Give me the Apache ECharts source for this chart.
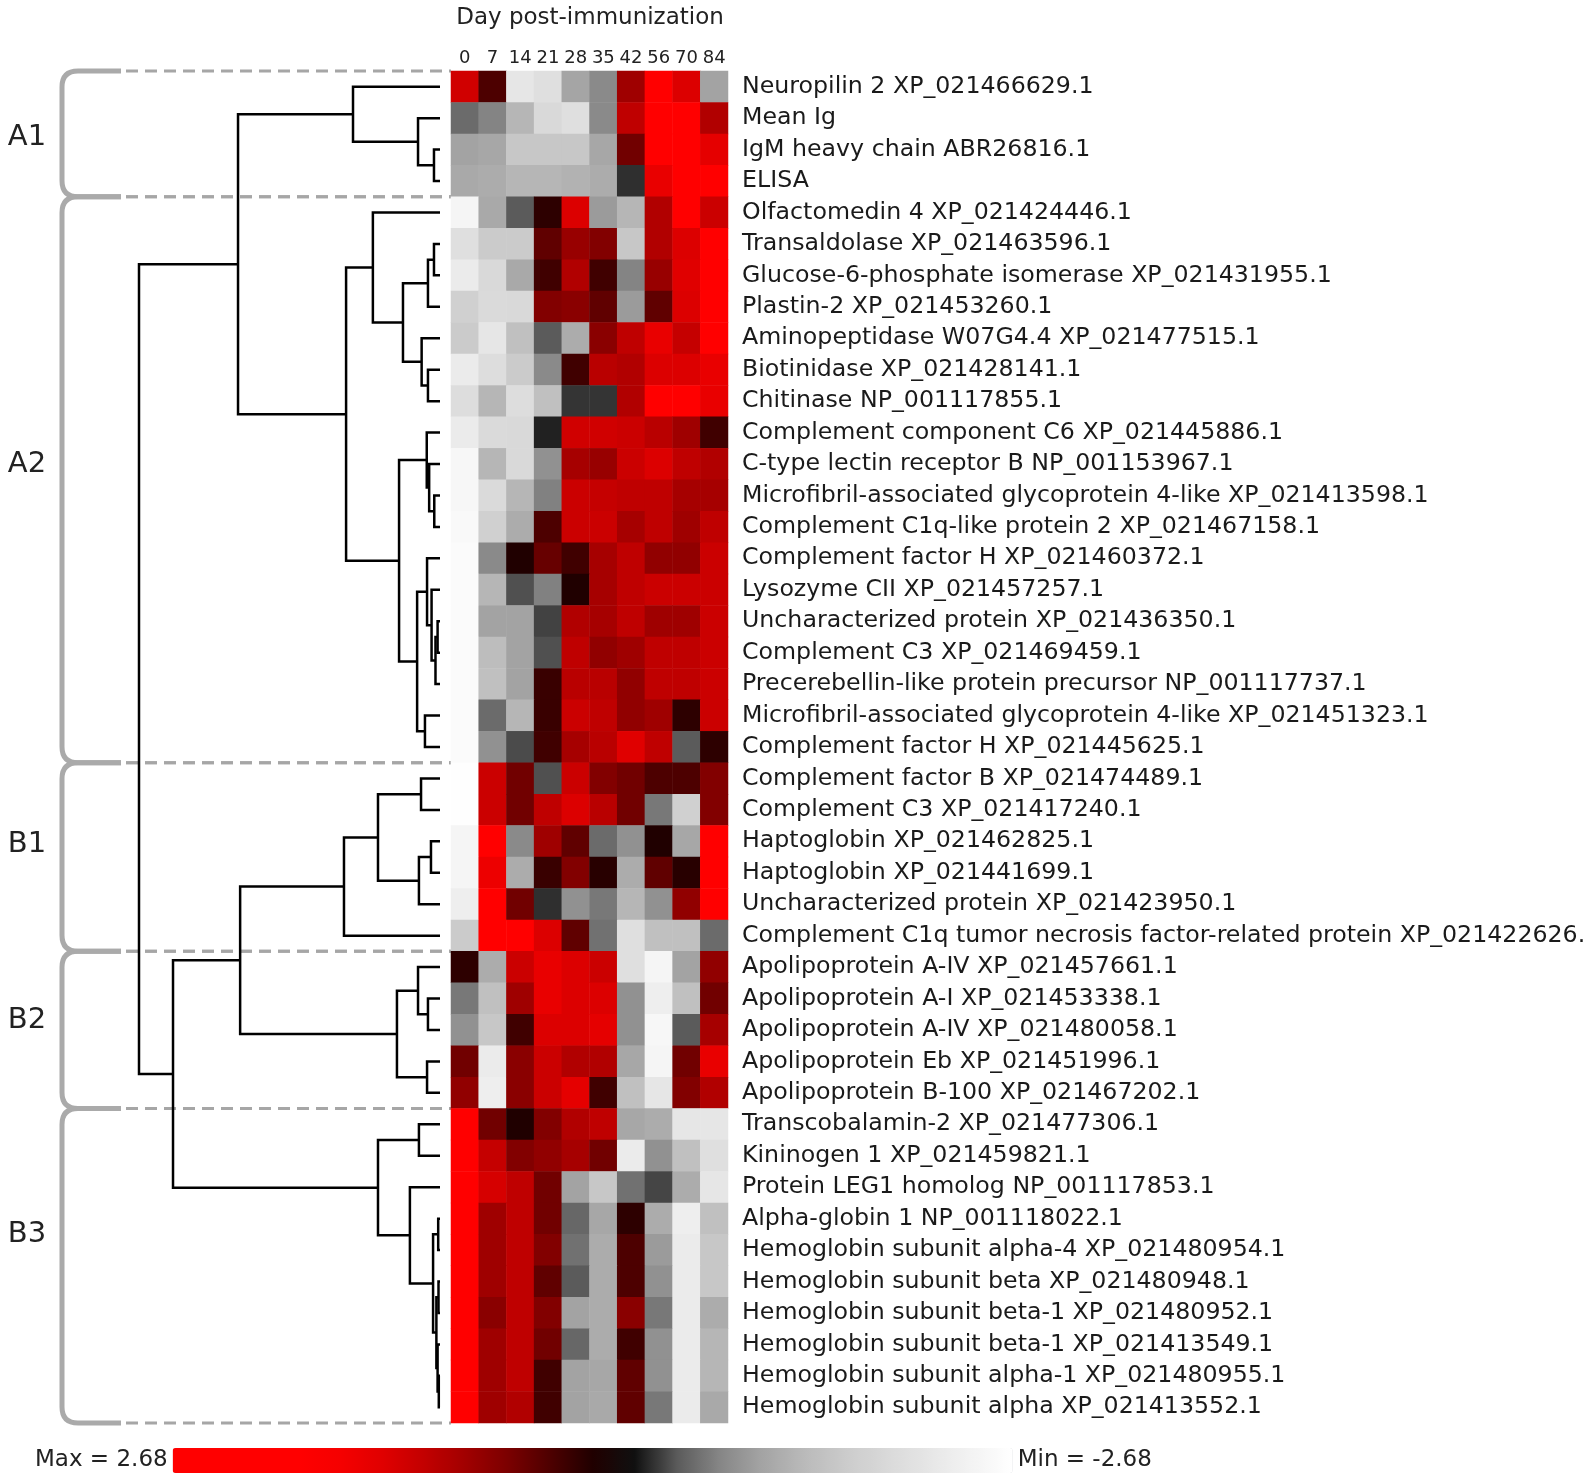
<!DOCTYPE html>
<html><head><meta charset="utf-8">
<script src="https://cdn.jsdelivr.net/npm/echarts/dist/echarts.min.js"></script>
<style>html,body{margin:0;padding:0;background:#fff}#c{width:1585px;height:1484px}</style>
</head><body><div id="c"></div>
<script>
const days = ['0','7','14','21','28','35','42','56','70','84'];
const proteins = [
 'Neuropilin 2 XP_021466629.1','Mean Ig','IgM heavy chain ABR26816.1','ELISA',
 'Olfactomedin 4 XP_021424446.1','Transaldolase XP_021463596.1','Glucose-6-phosphate isomerase XP_021431955.1',
 'Plastin-2 XP_021453260.1','Aminopeptidase W07G4.4 XP_021477515.1','Biotinidase XP_021428141.1',
 'Chitinase NP_001117855.1','Complement component C6 XP_021445886.1','C-type lectin receptor B NP_001153967.1',
 'Microfibril-associated glycoprotein 4-like XP_021413598.1','Complement C1q-like protein 2 XP_021467158.1',
 'Complement factor H XP_021460372.1','Lysozyme CII XP_021457257.1','Uncharacterized protein XP_021436350.1',
 'Complement C3 XP_021469459.1','Precerebellin-like protein precursor NP_001117737.1',
 'Microfibril-associated glycoprotein 4-like XP_021451323.1','Complement factor H XP_021445625.1',
 'Complement factor B XP_021474489.1','Complement C3 XP_021417240.1','Haptoglobin XP_021462825.1',
 'Haptoglobin XP_021441699.1','Uncharacterized protein XP_021423950.1',
 'Complement C1q tumor necrosis factor-related protein XP_021422626.1',
 'Apolipoprotein A-IV XP_021457661.1','Apolipoprotein A-I XP_021453338.1','Apolipoprotein A-IV XP_021480058.1',
 'Apolipoprotein Eb XP_021451996.1','Apolipoprotein B-100 XP_021467202.1',
 'Transcobalamin-2 XP_021477306.1','Kininogen 1 XP_021459821.1','Protein LEG1 homolog NP_001117853.1',
 'Alpha-globin 1 NP_001118022.1','Hemoglobin subunit alpha-4 XP_021480954.1','Hemoglobin subunit beta XP_021480948.1',
 'Hemoglobin subunit beta-1 XP_021480952.1','Hemoglobin subunit beta-1 XP_021413549.1',
 'Hemoglobin subunit alpha-1 XP_021480955.1','Hemoglobin subunit alpha XP_021413552.1'
];
// z-scored abundance per row (columns = days)
const valuesA1 = [
 [1.2, 0.27, -2.14, -2.0, -1.1, -0.85, 0.8, 2.4, 1.3, -1.07],
 [-0.64, -0.8, -1.3, -1.88, -2.0, -0.85, 1.05, 2.3, 2.5, 0.94],
 [-1.07, -1.12, -1.55, -1.55, -1.55, -1.12, 0.48, 2.3, 2.5, 1.4],
 [-1.15, -1.18, -1.3, -1.3, -1.25, -1.18, -0.38, 1.45, 2.3, 2.3]
];
const valuesA2 = [
 [-2.45, -1.15, -0.54, 0.08, 1.3, -1.0, -1.3, 0.94, 2.3, 1.15],
 [-2.0, -1.61, -1.61, 0.38, 0.75, 0.59, -1.55, 0.94, 1.3, 2.3],
 [-2.25, -1.88, -1.15, 0.19, 0.94, 0.19, -0.8, 0.75, 1.34, 2.3],
 [-1.7, -1.9, -1.88, 0.59, 0.65, 0.38, -1.0, 0.38, 1.3, 2.4],
 [-1.61, -2.14, -1.45, -0.54, -1.18, 0.65, 1.05, 1.45, 1.1, 2.3],
 [-2.25, -1.95, -1.61, -0.85, 0.19, 1.0, 0.94, 1.3, 1.3, 1.45],
 [-1.95, -1.3, -1.95, -1.45, -0.4, -0.4, 0.94, 2.3, 2.3, 1.45],
 [-2.25, -1.9, -1.88, -0.33, 1.2, 1.2, 1.15, 1.0, 0.8, 0.19],
 [-2.5, -1.3, -1.88, -0.91, 0.85, 0.75, 1.15, 1.3, 1.05, 0.94],
 [-2.5, -1.9, -1.3, -0.78, 1.15, 1.1, 1.05, 1.05, 0.85, 0.85],
 [-2.55, -1.7, -1.18, 0.27, 1.15, 1.15, 0.85, 1.05, 0.8, 1.05],
 [-2.6, -0.85, 0.0, 0.42, 0.19, 0.85, 1.05, 0.7, 0.7, 1.15],
 [-2.6, -1.3, -0.5, -0.78, 0.0, 0.85, 1.05, 1.15, 1.15, 1.15],
 [-2.6, -1.07, -1.07, -0.45, 0.94, 0.85, 1.05, 0.8, 0.8, 1.15],
 [-2.6, -1.4, -1.07, -0.5, 1.05, 0.7, 0.8, 1.05, 1.05, 1.15],
 [-2.6, -1.45, -1.07, 0.15, 1.0, 1.0, 0.7, 1.05, 1.05, 1.15],
 [-2.6, -0.64, -1.3, 0.15, 1.15, 1.05, 0.7, 0.8, 0.08, 1.15],
 [-2.6, -0.91, -0.48, 0.19, 0.85, 1.0, 1.34, 1.05, -0.54, 0.08]
];
const valuesB1 = [
 [-2.65, 1.15, 0.48, -0.5, 1.15, 0.59, 0.48, 0.27, 0.27, 0.59],
 [-2.65, 1.15, 0.48, 1.05, 1.3, 1.0, 0.48, -0.72, -1.7, 0.59],
 [-2.45, 2.3, -0.85, 0.8, 0.38, -0.64, -0.91, 0.0, -1.12, 2.3],
 [-2.45, 1.5, -1.18, 0.15, 0.59, 0.05, -1.18, 0.38, 0.05, 2.3],
 [-2.3, 2.3, 0.48, -0.38, -0.91, -0.72, -1.3, -0.91, 0.7, 2.3],
 [-1.61, 2.3, 2.3, 1.3, 0.38, -0.68, -2.0, -1.45, -1.45, -0.64]
];
const valuesB2 = [
 [0.08, -1.18, 1.15, 1.45, 1.3, 1.15, -2.0, -2.45, -1.07, 0.7],
 [-0.72, -1.45, 0.8, 1.45, 1.3, 1.3, -0.91, -2.3, -1.45, 0.48],
 [-0.91, -1.55, 0.19, 1.3, 1.3, 1.4, -0.91, -2.5, -0.54, 0.85],
 [0.48, -2.25, 0.65, 1.15, 0.94, 0.94, -1.12, -2.45, 0.48, 1.45],
 [0.7, -2.3, 0.65, 1.15, 1.4, 0.19, -1.45, -2.14, 0.59, 0.94]
];
const valuesB3 = [
 [2.3, 0.48, 0.0, 0.59, 0.94, 1.05, -1.12, -1.18, -2.14, -2.14],
 [2.3, 1.1, 0.59, 0.7, 0.85, 0.48, -2.25, -0.91, -1.45, -2.0],
 [2.3, 1.25, 1.05, 0.48, -1.07, -1.55, -0.68, -0.46, -1.18, -2.14],
 [2.3, 0.8, 1.05, 0.48, -0.62, -1.12, 0.08, -1.18, -2.3, -1.45],
 [2.3, 0.8, 1.05, 0.59, -0.68, -1.18, 0.27, -1.0, -2.25, -1.55],
 [2.3, 0.8, 1.05, 0.38, -0.54, -1.18, 0.27, -0.91, -2.25, -1.55],
 [2.3, 0.65, 1.05, 0.59, -1.07, -1.18, 0.65, -0.72, -2.25, -1.18],
 [2.3, 0.8, 1.05, 0.48, -0.62, -1.18, 0.19, -0.91, -2.25, -1.3],
 [2.3, 0.8, 1.05, 0.19, -1.07, -1.12, 0.38, -0.91, -2.25, -1.3],
 [2.3, 0.8, 0.94, 0.19, -1.07, -1.15, 0.38, -0.72, -2.25, -1.15]
];
const scaleMin = -2.68, scaleMax = 2.68;
// hierarchical clustering: [childA, childB, distance]; leaves 0..42, merged node k gets id 43+k
const merges = [
 [2,3,0.020],[1,43,0.073],[0,44,0.289],
 [5,6,0.020],[46,7,0.040],[9,10,0.040],[8,48,0.061],[47,49,0.123],[4,50,0.223],
 [13,14,0.019],[12,52,0.036],[11,53,0.044],
 [17,18,0.008],[55,19,0.015],[16,56,0.028],[15,57,0.043],[20,21,0.050],[58,59,0.076],
 [54,60,0.136],[51,61,0.312],[45,62,0.671],
 [22,23,0.063],[24,25,0.030],[65,26,0.070],[64,66,0.206],[67,27,0.319],
 [29,30,0.040],[28,69,0.073],[31,32,0.043],[70,71,0.143],[68,72,0.664],
 [33,34,0.070],
 [36,37,0.006],[38,39,0.005],[41,42,0.004],[40,77,0.008],[76,78,0.012],[75,79,0.023],
 [35,80,0.100],[74,81,0.206],[73,82,0.887],[63,83,1.0]
];
const clusterNames = ['A1','A2','B1','B2','B3'];
const clusterFirst = [0, 4, 22, 28, 33];
const clusterLast = [3, 21, 27, 32, 42];
const clusterLabelRow = [1.6, 12.0, 24.1, 29.7, 36.5];

const allRows = [].concat(valuesA1, valuesA2, valuesB1, valuesB2, valuesB3);
const heatData = [];
allRows.forEach((row, r) => row.forEach((v, c) => heatData.push([c, r, v])));

const nLeaf = proteins.length;
const nodeY = [], nodeH = [];
for (let i = 0; i < nLeaf; i++) { nodeY[i] = i; nodeH[i] = 0; }
const dendroData = merges.map(([a, b, h], k) => {
  const id = nLeaf + k;
  nodeY[id] = (nodeY[a] + nodeY[b]) / 2; nodeH[id] = h;
  return { coords: [[nodeH[a], nodeY[a]], [h, nodeY[a]], [h, nodeY[b]], [nodeH[b], nodeY[b]]] };
});
const clusterData = clusterNames.map((n, i) => [0, clusterFirst[i], clusterLast[i], clusterLabelRow[i]]);

const FONT = '"DejaVu Sans", "Liberation Sans", Arial, sans-serif';
const chart = echarts.init(document.getElementById('c'), null, {renderer: 'canvas'});
const GRID_TOP = 71, GRID_H = 1352;
chart.setOption({
  backgroundColor: '#fff',
  animation: false,
  textStyle: {fontFamily: FONT},
  grid: [
    {left: 451, top: GRID_TOP, width: 277, height: GRID_H, containLabel: false, outerBoundsMode: 'none'},
    {left: 139, top: GRID_TOP, width: 301, height: GRID_H, containLabel: false, outerBoundsMode: 'none'}
  ],
  xAxis: [
    {gridIndex: 0, type: 'category', data: days, position: 'top',
     axisLine: {show: false}, axisTick: {show: false}, splitLine: {show: false},
     axisLabel: {fontSize: 18, margin: 4, color: '#222', fontFamily: FONT, interval: 0, hideOverlap: false}},
    {gridIndex: 1, type: 'value', min: 0, max: 1, inverse: true, show: false}
  ],
  yAxis: [
    {gridIndex: 0, type: 'category', data: proteins, inverse: true, position: 'right',
     axisLine: {show: false}, axisTick: {show: false}, splitLine: {show: false},
     axisLabel: {fontSize: 23.7, margin: 14, color: '#1a1a1a', fontFamily: FONT, interval: 0}},
    {gridIndex: 1, type: 'value', min: -0.5, max: nLeaf - 0.5, inverse: true, show: false}
  ],
  visualMap: {
    type: 'continuous', seriesIndex: 0, min: scaleMin, max: scaleMax,
    orient: 'horizontal', inverse: true, calculable: false, realtime: false,
    left: 20, top: 1433, itemWidth: 25, itemHeight: 840, textGap: 5,
    text: ['Max = 2.68', 'Min = -2.68'],
    textStyle: {fontSize: 23, color: '#222', fontFamily: FONT},
    inRange: {color: ['#ffffff','#f3f3f3','#e6e6e6','#d9d9d9','#cbcbcb','#b9b9b9','#a3a3a3','#858585','#5a5a5a','#101010',
                      '#200000','#4d0000','#7a0000','#a00000','#c20000','#e00000','#f50000','#ff0000','#ff0000','#ff0000','#ff0000']}
  },
  graphic: [
    {type: 'text', x: 590, y: 18, style: {text: 'Day post-immunization', font: '23px ' + FONT, fill: '#222', textAlign: 'center', textVerticalAlign: 'middle'}}
  ],
  series: [
    {type: 'heatmap', xAxisIndex: 0, yAxisIndex: 0, data: heatData, silent: true,
     itemStyle: {borderWidth: 0}, emphasis: {disabled: true}},
    {type: 'custom', xAxisIndex: 1, yAxisIndex: 1, data: clusterData, clip: false, silent: true, z: 1,
     encode: {x: 0, y: 1},
     renderItem: function (params, api) {
       const s = api.value(1), e = api.value(2), lr = api.value(3);
       const yTop = api.coord([0, s - 0.5])[1], yBot = api.coord([0, e + 0.5])[1];
       const yLab = api.coord([0, lr])[1];
       const bx = 62, bEnd = 121, r = 16;
       const p = 'M' + bEnd + ' ' + yTop + ' L' + (bx + r) + ' ' + yTop + ' Q' + bx + ' ' + yTop + ' ' + bx + ' ' + (yTop + r) +
                 ' L' + bx + ' ' + (yBot - r) + ' Q' + bx + ' ' + yBot + ' ' + (bx + r) + ' ' + yBot + ' L' + bEnd + ' ' + yBot;
       const dash = {stroke: '#a6a6a6', lineWidth: 3, lineDash: [12, 7]};
       return {type: 'group', children: [
         {type: 'path', shape: {pathData: p}, style: {fill: 'none', stroke: '#aaaaaa', lineWidth: 5}},
         {type: 'line', shape: {x1: bEnd + 5, y1: yTop, x2: 451, y2: yTop}, style: dash},
         {type: 'line', shape: {x1: bEnd + 5, y1: yBot, x2: 451, y2: yBot}, style: dash},
         {type: 'text', x: 27, y: yLab, style: {text: clusterNames[params.dataIndex], font: '29px ' + FONT, fill: '#222', textAlign: 'center', textVerticalAlign: 'middle'}}
       ]};
     }},
    {type: 'lines', coordinateSystem: 'cartesian2d', xAxisIndex: 1, yAxisIndex: 1, polyline: true, silent: true, z: 3,
     data: dendroData, lineStyle: {color: '#000', width: 2.5, opacity: 1}}
  ]
});
</script></body></html>
